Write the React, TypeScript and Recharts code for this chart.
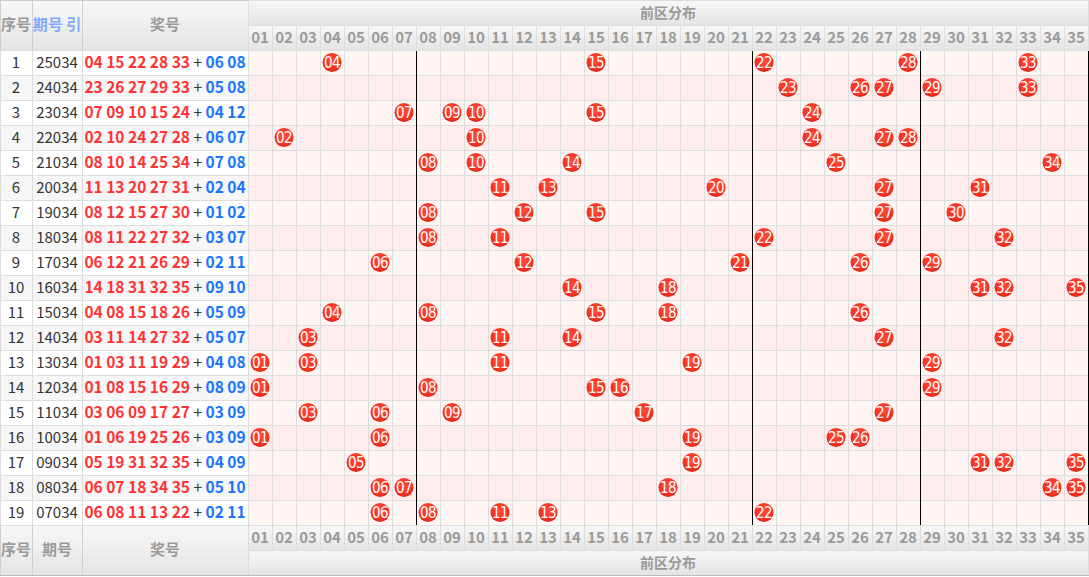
import React from "react";
import {
  ScatterChart,
  Scatter,
  XAxis,
  YAxis,
  ReferenceArea,
  ReferenceLine,
  Customized,
} from "recharts";

const seqNos = [1, 2, 3, 4, 5, 6, 7, 8, 9, 10, 11, 12, 13, 14, 15, 16, 17, 18, 19];
const issues = [
  "25034", "24034", "23034", "22034", "21034", "20034", "19034", "18034", "17034", "16034",
  "15034", "14034", "13034", "12034", "11034", "10034", "09034", "08034", "07034",
];
const frontNums = [
  [4, 15, 22, 28, 33],
  [23, 26, 27, 29, 33],
  [7, 9, 10, 15, 24],
  [2, 10, 24, 27, 28],
  [8, 10, 14, 25, 34],
  [11, 13, 20, 27, 31],
  [8, 12, 15, 27, 30],
  [8, 11, 22, 27, 32],
  [6, 12, 21, 26, 29],
  [14, 18, 31, 32, 35],
  [4, 8, 15, 18, 26],
  [3, 11, 14, 27, 32],
  [1, 3, 11, 19, 29],
  [1, 8, 15, 16, 29],
  [3, 6, 9, 17, 27],
  [1, 6, 19, 25, 26],
  [5, 19, 31, 32, 35],
  [6, 7, 18, 34, 35],
  [6, 8, 11, 13, 22],
];
const backNums = [
  [6, 8], [5, 8], [4, 12], [6, 7], [7, 8], [2, 4], [1, 2], [3, 7], [2, 11], [9, 10],
  [5, 9], [5, 7], [4, 8], [8, 9], [3, 9], [3, 9], [4, 9], [5, 10], [2, 11],
];
const zoneNums = Array.from({ length: 35 }, (_, i) => i + 1);
const zoneBreaks = [0.5, 7.5, 21.5, 28.5, 35.5];

const pad = (n: number) => String(n).padStart(2, "0");

const balls = frontNums.flatMap((row, i) => row.map((n) => ({ x: n, y: seqNos[i] })));

const CJK = "'Noto Sans CJK SC', 'Noto Sans', sans-serif";
const GRID = "#dddddd";
const HEAD_TXT = "#9a9a9a";
const RED = "#ff3333";
const BLUE = "#1a74ff";

const W = 1089;
const H = 577;
const ROW_H = 25;
const COL_W = 24;
// left columns: 序号 / 期号 / 奖号
const LEFT_COLS = [
  { w: 32, label: "序号" },
  { w: 50, label: "期号" },
  { w: 166, label: "奖号" },
];
const LEFT_W = LEFT_COLS.reduce((s, c) => s + c.w, 0);

const LeftTick = (props: any) => {
  const { x, y, payload } = props;
  const idx = seqNos.indexOf(payload.value);
  if (idx < 0) return null;
  const bg = idx % 2 === 0 ? "#ffffff" : "#f6f6f6";
  const x0 = x - LEFT_W;
  const x1 = x0 + LEFT_COLS[0].w;
  const x2 = x1 + LEFT_COLS[1].w;
  return (
    <g shapeRendering="crispEdges">
      <rect x={x0} y={y - ROW_H / 2} width={LEFT_COLS[0].w} height={ROW_H} fill={bg} stroke={GRID} />
      <rect x={x1} y={y - ROW_H / 2} width={LEFT_COLS[1].w} height={ROW_H} fill={bg} stroke={GRID} />
      <rect x={x2} y={y - ROW_H / 2} width={LEFT_COLS[2].w} height={ROW_H} fill={bg} stroke={GRID} />
      <g shapeRendering="auto">
        <text x={x0 + LEFT_COLS[0].w / 2} y={y + 5} textAnchor="middle" fontSize={15} fontFamily={CJK} fill="#333">
          {seqNos[idx]}
        </text>
        <text x={x1 + LEFT_COLS[1].w / 2} y={y + 5} textAnchor="middle" fontSize={15} fontFamily={CJK} fill="#333">
          {issues[idx]}
        </text>
        <text x={x2 + LEFT_COLS[2].w / 2} y={y + 5} textAnchor="middle" fontSize={15.5} fontFamily={CJK} fontWeight="bold">
          <tspan fill={RED}>{frontNums[idx].map(pad).join(" ")}</tspan>
          <tspan fill="#333" fontWeight="normal">{" + "}</tspan>
          <tspan fill={BLUE}>{backNums[idx].map(pad).join(" ")}</tspan>
        </text>
      </g>
    </g>
  );
};

const TopTick = (props: any) => {
  const { x, y, payload } = props;
  return (
    <g>
      <rect x={x - COL_W / 2} y={y - ROW_H} width={COL_W} height={ROW_H} fill="url(#headGrad)" stroke={GRID} shapeRendering="crispEdges" />
      <text x={x} y={y - 7} textAnchor="middle" fontSize={15} fontWeight="bold" fontFamily={CJK} fill={HEAD_TXT}>
        {pad(payload.value)}
      </text>
    </g>
  );
};

const BottomTick = (props: any) => {
  const { x, y, payload } = props;
  return (
    <g>
      <rect x={x - COL_W / 2} y={y} width={COL_W} height={ROW_H} fill="url(#headGrad)" stroke={GRID} shapeRendering="crispEdges" />
      <text x={x} y={y + 18} textAnchor="middle" fontSize={15} fontWeight="bold" fontFamily={CJK} fill={HEAD_TXT}>
        {pad(payload.value)}
      </text>
    </g>
  );
};

const Ball = (props: any) => {
  const { cx, cy, payload } = props;
  return (
    <g>
      <circle cx={cx} cy={cy} r={9.5} fill="url(#ballGrad)" />
      <text
        x={cx}
        y={cy + 5}
        textAnchor="middle"
        fontSize={15}
        fontFamily="'Liberation Sans Narrow', 'DejaVu Sans Condensed', sans-serif"
        fill="#fff"
        letterSpacing={-0.5}
      >
        {pad(payload.x)}
      </text>
    </g>
  );
};

const NoShape = () => <g />;

// header / footer cells of the left-hand columns and the zone title bands
const TableFrame = () => {
  const gridX = LEFT_W;
  const gridW = COL_W * 35;
  const footY = 50 + ROW_H * 19;
  let cx = 0;
  const cells = LEFT_COLS.map((c) => {
    const cell = { x: cx, w: c.w, label: c.label };
    cx += c.w;
    return cell;
  });
  return (
    <g>
      <defs>
        <linearGradient id="headGrad" x1="0" y1="0" x2="0" y2="1">
          <stop offset="0%" stopColor="#f8f8f8" />
          <stop offset="100%" stopColor="#e4e4e4" />
        </linearGradient>
        <radialGradient id="ballGrad" cx="50%" cy="40%" r="60%">
          <stop offset="0%" stopColor="#ff4d3d" />
          <stop offset="75%" stopColor="#f5321f" />
          <stop offset="100%" stopColor="#d9261a" />
        </radialGradient>
      </defs>
      {cells.map((c) => (
        <g key={"h" + c.label}>
          <rect x={c.x} y={0} width={c.w} height={50} fill="url(#headGrad)" stroke="#cfcfcf" shapeRendering="crispEdges" />
          <text
            x={c.x + c.w / 2}
            y={30}
            textAnchor="middle"
            fontSize={15}
            fontWeight="bold"
            fontFamily={CJK}
            fill={c.label === "期号" ? "#84a9ff" : HEAD_TXT}
          >
            {c.label === "期号" ? "期号 引" : c.label}
          </text>
          <rect x={c.x} y={footY} width={c.w} height={50} fill="url(#headGrad)" stroke="#cfcfcf" shapeRendering="crispEdges" />
          <text x={c.x + c.w / 2} y={footY + 30} textAnchor="middle" fontSize={15} fontWeight="bold" fontFamily={CJK} fill={HEAD_TXT}>
            {c.label}
          </text>
        </g>
      ))}
      <rect x={gridX} y={0} width={gridW} height={ROW_H} fill="url(#headGrad)" stroke={GRID} shapeRendering="crispEdges" />
      <text x={gridX + gridW / 2} y={18} textAnchor="middle" fontSize={14} fontWeight="bold" fontFamily={CJK} fill={HEAD_TXT}>
        前区分布
      </text>
      <rect x={gridX} y={footY + ROW_H} width={gridW} height={ROW_H} fill="url(#headGrad)" stroke={GRID} shapeRendering="crispEdges" />
      <text x={gridX + gridW / 2} y={footY + ROW_H + 18} textAnchor="middle" fontSize={14} fontWeight="bold" fontFamily={CJK} fill={HEAD_TXT}>
        前区分布
      </text>
      <line x1={0} y1={H - 1.5} x2={W} y2={H - 1.5} stroke="#bdbdbd" strokeWidth={1} />
    </g>
  );
};

export default function App() {
  return (
    <div style={{ position: "absolute", left: 0, top: 0, background: "#fff" }}>
      <ScatterChart width={W} height={H} margin={{ top: 0, right: 1, bottom: 0, left: 0 }}>
        <Customized component={<TableFrame />} />
        <XAxis
          xAxisId="top"
          orientation="top"
          type="number"
          dataKey="x"
          domain={[0.5, 35.5]}
          ticks={zoneNums}
          interval={0}
          height={50}
          axisLine={false}
          tickLine={false}
          tickSize={0}
          tickMargin={0}
          tick={<TopTick />}
        />
        <XAxis
          xAxisId="bottom"
          orientation="bottom"
          type="number"
          dataKey="x"
          domain={[0.5, 35.5]}
          ticks={zoneNums}
          interval={0}
          height={52}
          axisLine={false}
          tickLine={false}
          tickSize={0}
          tickMargin={0}
          tick={<BottomTick />}
        />
        <YAxis
          yAxisId="rows"
          type="number"
          dataKey="y"
          reversed
          domain={[0.5, 19.5]}
          ticks={seqNos}
          interval={0}
          width={LEFT_W}
          axisLine={false}
          tickLine={false}
          tickSize={0}
          tickMargin={0}
          tick={<LeftTick />}
        />
        {seqNos.map((r, i) => (
          <ReferenceArea
            key={"row" + r}
            xAxisId="top"
            yAxisId="rows"
            y1={r - 0.5}
            y2={r + 0.5}
            fill={i % 2 === 0 ? "#fff6f4" : "#ffecec"}
            fillOpacity={1}
            stroke="none"
          />
        ))}
        {seqNos.map((r) => (
          <ReferenceLine key={"h" + r} xAxisId="top" yAxisId="rows" y={r + 0.5} stroke={GRID} shapeRendering="crispEdges" />
        ))}
        {[0, ...zoneNums].map((n) => (
          <ReferenceLine key={"v" + n} xAxisId="top" yAxisId="rows" x={n + 0.5} stroke={GRID} shapeRendering="crispEdges" />
        ))}
        {zoneBreaks.map((b) => (
          <ReferenceLine key={"b" + b} xAxisId="top" yAxisId="rows" x={b} stroke="#000" strokeWidth={1} shapeRendering="crispEdges" />
        ))}
        <Scatter
          xAxisId="bottom"
          yAxisId="rows"
          data={balls}
          shape={<NoShape />}
          isAnimationActive={false}
        />
        <Scatter
          xAxisId="top"
          yAxisId="rows"
          data={balls}
          shape={<Ball />}
          isAnimationActive={false}
        />
      </ScatterChart>
    </div>
  );
}
